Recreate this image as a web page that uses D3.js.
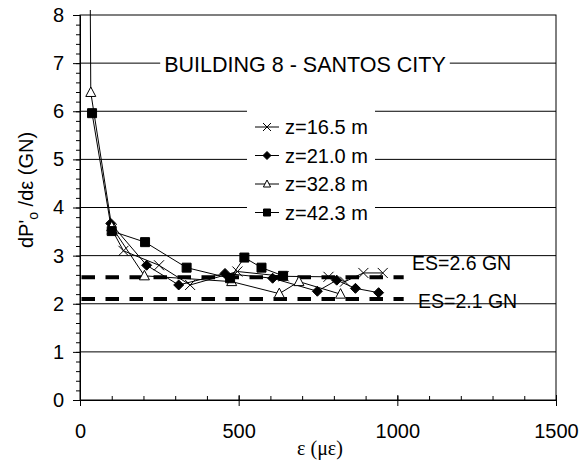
<!DOCTYPE html>
<html>
<head>
<meta charset="utf-8">
<script src="https://cdn.jsdelivr.net/npm/d3@7"></script>
<style>
  body { margin: 0; background: #fff; }
  text { font-family: "Liberation Sans", Arial, sans-serif; fill: #000; }
</style>
</head>
<body>
<svg width="580" height="460"></svg>
<script>
// strain (micro-strain) and stiffness dP'o/de (GN) for each depth
const eps_z165 = [100, 137, 249, 347, 496, 642, 783, 835, 893, 954];
const dp_z165  = [3.55, 3.10, 2.80, 2.39, 2.67, 2.57, 2.56, 2.46, 2.64, 2.64];

const eps_z210 = [97, 210, 311, 457, 607, 748, 809, 868, 941];
const dp_z210  = [3.67, 2.80, 2.39, 2.63, 2.53, 2.26, 2.49, 2.32, 2.23];

const eps_z328 = [32, 34, 100, 203, 478, 628, 690, 821];
const dp_z328  = [8.6, 6.39, 3.60, 2.58, 2.46, 2.21, 2.46, 2.20];

const eps_z423 = [38, 100, 205, 336, 473, 518, 572, 640];
const dp_z423  = [5.96, 3.51, 3.28, 2.75, 2.53, 2.96, 2.75, 2.58];

const seriesNames = ["z=16.5 m", "z=21.0 m", "z=32.8 m", "z=42.3 m"];

const esValues = [2.55, 2.1];
const esLabels = ["ES=2.6 GN", "ES=2.1 GN"];
const esEnd = 1020;

const xTicks = [0, 500, 1000, 1500];
const yTicks = [0, 1, 2, 3, 4, 5, 6, 7, 8];
const title = "BUILDING 8 - SANTOS CITY";

const svg = d3.select('svg');
const width = +svg.attr('width');
const height = +svg.attr('height');

const margin = {top: 15, right: 24, bottom: 60, left: 80};
const innerwidth = width - margin.left - margin.right;
const innerheight = height - margin.top - margin.bottom;

const g = svg.append('g')
    .attr('transform', "translate(" + margin.left + "," + margin.top + ")");

const xscale = d3.scaleLinear().domain([0, 1500]).range([0, innerwidth]);
const yscale = d3.scaleLinear().domain([0, 8]).range([innerheight, 0]);

// clip: lines can run a little above the frame
svg.append('clipPath').attr('id', 'clip')
  .append('rect').attr('x', 0).attr('y', -5).attr('width', innerwidth).attr('height', innerheight + 5);

// grid lines
g.selectAll('.grid').data(yTicks.filter(d => d > 0 && d < 8)).enter()
  .append('line')
  .attr('x1', 0).attr('x2', innerwidth)
  .attr('y1', d => yscale(d)).attr('y2', d => yscale(d))
  .attr('stroke', '#000').attr('stroke-width', 1);

// frame
g.append('rect')
  .attr('width', innerwidth).attr('height', innerheight)
  .attr('fill', 'none').attr('stroke', '#000').attr('stroke-width', 1);

// y axis
const yMinor = d3.range(0, 8.01, 0.2);
const yMinorG = g.append('g').call(d3.axisLeft(yscale).tickValues(yMinor).tickSize(4).tickFormat(''));
yMinorG.select('.domain').remove();
const yaxisG = g.append('g').call(d3.axisLeft(yscale).tickValues(yTicks).tickSize(7).tickPadding(9).tickFormat(d3.format('d')));
yaxisG.selectAll('text').style('font-size', '20px').style('font-family', '"Liberation Sans", Arial, sans-serif');
yaxisG.selectAll('line, .domain').attr('stroke', '#000');

// x axis
const xMinor = d3.range(0, 1501, 100);
const xMinorG = g.append('g').call(d3.axisTop(xscale).tickValues(xMinor).tickSize(4).tickFormat(''))
  .attr('transform', "translate(0," + innerheight + ")");
xMinorG.select('.domain').remove();
const xaxisG = g.append('g').call(d3.axisBottom(xscale).tickValues(xTicks).tickSize(6).tickPadding(18).tickFormat(d3.format('d')))
  .attr('transform', "translate(0," + innerheight + ")");
xaxisG.selectAll('.tick line').attr('y1', -5).attr('stroke', '#000');
xaxisG.selectAll('text').style('font-size', '20px').style('font-family', '"Liberation Sans", Arial, sans-serif');

// title on white background
const titleBg = g.append('rect').attr('fill', '#fff');
const titleT = g.append('text')
  .attr('x', 225).attr('y', yscale(7) + 9)
  .attr('text-anchor', 'middle')
  .style('font-size', '21.5px')
  .text(title);
const tb = titleT.node().getBBox();
titleBg.attr('x', tb.x - 4).attr('y', tb.y).attr('width', tb.width + 8).attr('height', tb.height);

// ES lines and labels
g.selectAll('.es').data(esValues).enter()
  .append('line')
  .attr('x1', 1.5).attr('x2', xscale(esEnd))
  .attr('y1', d => yscale(d)).attr('y2', d => yscale(d))
  .attr('stroke', '#000').attr('stroke-width', 4)
  .attr('stroke-dasharray', '13.5,10.5');

const esLabelPos = [{x: 332, y: -7}, {x: 338, y: 9}];
esLabels.forEach((lab, i) => {
  const bg = g.append('rect').attr('fill', '#fff');
  const t = g.append('text')
    .attr('x', esLabelPos[i].x).attr('y', yscale(esValues[i]) + esLabelPos[i].y)
    .style('font-size', '19.5px')
    .text(lab);
  if (i === 1) {
    const b = t.node().getBBox();
    bg.attr('x', b.x - 5).attr('y', yscale(esValues[i]) - 2).attr('width', b.width + 12).attr('height', 4);
  }
});

// series
const shapes = {
  cross: 'M-5,-5L5,5M-5,5L5,-5',
  diamond: 'M0,-5L5,0L0,5L-5,0Z',
  triangle: 'M0,-5.5L5,4L-5,4Z',
  square: 'M-4.5,-4.5h9v9h-9Z'
};
const legendShapes = {
  cross: 'M-4,-4L4,4M-4,4L4,-4',
  diamond: 'M0,-4L4,0L0,4L-4,0Z',
  triangle: 'M0,-4L3.6,3L-3.6,3Z',
  square: 'M-3.5,-3.5h7v7h-7Z'
};
const series = [
  {name: seriesNames[0], x: eps_z165, y: dp_z165, shape: 'cross', fill: 'none'},
  {name: seriesNames[1], x: eps_z210, y: dp_z210, shape: 'diamond', fill: '#000'},
  {name: seriesNames[2], x: eps_z328, y: dp_z328, shape: 'triangle', fill: '#fff'},
  {name: seriesNames[3], x: eps_z423, y: dp_z423, shape: 'square', fill: '#000'}
];

const plot = g.append('g').attr('clip-path', 'url(#clip)');
const line = d3.line().x(d => xscale(d[0])).y(d => yscale(d[1]));

series.forEach(s => {
  const pts = s.x.map((v, i) => [v, s.y[i]]);
  plot.append('path').datum(pts)
    .attr('d', line)
    .attr('fill', 'none').attr('stroke', '#000').attr('stroke-width', 1);
});
series.forEach(s => {
  const pts = s.x.map((v, i) => [v, s.y[i]]);
  plot.selectAll(null).data(pts).enter()
    .append('path')
    .attr('d', shapes[s.shape])
    .attr('transform', d => "translate(" + xscale(d[0]) + "," + yscale(d[1]) + ")")
    .attr('fill', s.fill).attr('stroke', '#000').attr('stroke-width', 1);
});

// legend
const legend = g.append('g').attr('transform', 'translate(167,0)');
legend.append('rect').attr('x', 0).attr('y', 94).attr('width', 128).attr('height', 118).attr('fill', '#fff');
series.forEach((s, i) => {
  const cy = 112 + i * 28.5;
  legend.append('line').attr('x1', 8).attr('x2', 32).attr('y1', cy).attr('y2', cy).attr('stroke', '#000');
  legend.append('path').attr('d', legendShapes[s.shape])
    .attr('transform', "translate(20," + cy + ")")
    .attr('fill', s.fill).attr('stroke', '#000');
  legend.append('text').attr('x', 38).attr('y', cy + 7)
    .style('font-size', '20px')
    .text(s.name);
});

// axis labels
svg.append('text')
  .attr('x', 320).attr('y', 455)
  .attr('text-anchor', 'middle')
  .style('font-family', '"Liberation Serif", "Times New Roman", serif')
  .style('font-size', '20px')
  .text('ε (με)');

const ylab = svg.append('text')
  .attr('transform', 'translate(33,190) rotate(-90)')
  .attr('text-anchor', 'middle')
  .style('font-size', '20px');
ylab.append('tspan').text("dP'");
ylab.append('tspan').attr('dy', 5).style('font-size', '14px').text('o');
ylab.append('tspan').attr('dy', -5).text(' /dε (GN)');
</script>
</body>
</html>
